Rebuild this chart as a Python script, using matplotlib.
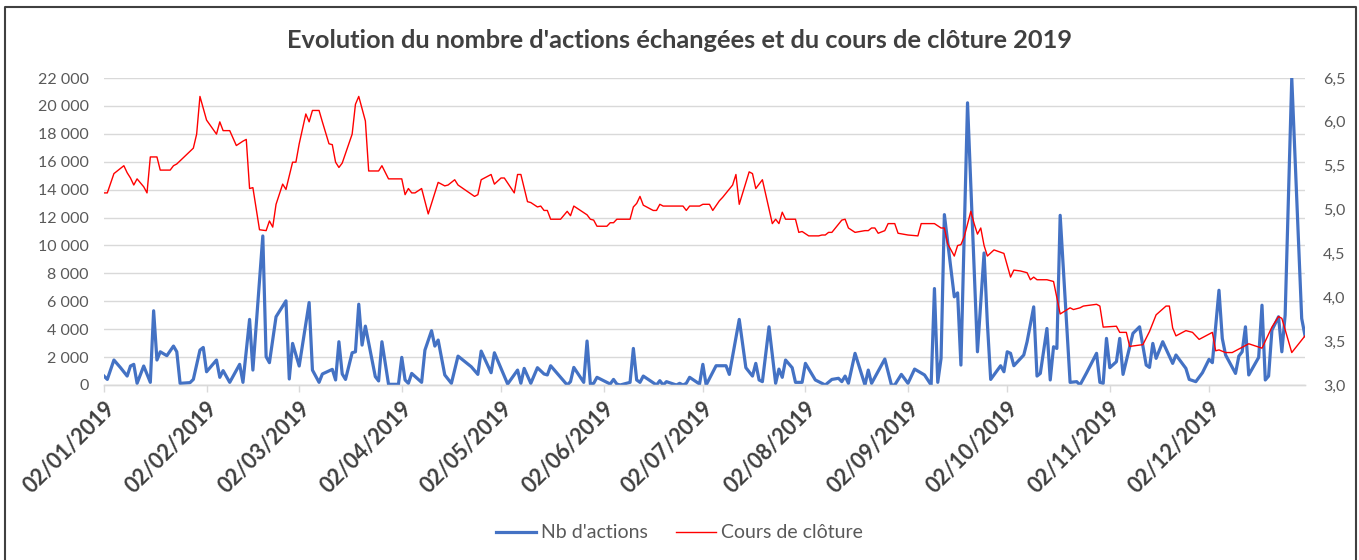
import matplotlib
matplotlib.use("Agg")
import matplotlib.pyplot as plt
import matplotlib.dates as mdates
import matplotlib.ticker as mticker
from matplotlib.lines import Line2D
import pandas as pd

# ---------------- data ----------------
# days counted from 02/01/2019
vol_days = [0, 1, 3, 5, 7, 8, 9, 10, 12, 14, 15, 16, 17, 19, 21, 22, 23, 26, 27, 29,
            30, 31, 34, 35, 36, 38, 41, 42, 44, 45, 48, 49, 50, 52, 55, 56, 57, 59, 62, 63,
            65, 66, 69, 70, 71, 72, 73, 75, 76, 77, 78, 79, 82, 83, 84, 86, 89, 90, 91, 92,
            93, 96, 97, 99, 100, 101, 103, 105, 107, 111, 113, 114, 117, 118, 122, 125, 126, 127, 129, 131,
            133, 134, 135, 140, 141, 142, 145, 146, 147, 148, 149, 153, 154, 155, 156, 159, 160, 161, 162, 163,
            167, 168, 169, 170, 173, 174, 175, 176, 177, 180, 181, 182, 185, 188, 189, 192, 194, 196, 197, 198,
            199, 201, 203, 204, 205, 206, 208, 209, 211, 212, 215, 218, 220, 222, 223, 224, 225, 227, 230, 231,
            232, 236, 238, 239, 241, 243, 245, 248, 250, 251, 252, 253, 254, 257, 258, 259, 261, 264, 266, 267,
            268, 271, 272, 273, 274, 275, 278, 279, 281, 282, 283, 285, 286, 287, 288, 289, 292, 294, 295, 297,
            300, 301, 302, 303, 304, 306, 307, 308, 311, 313, 315, 316, 317, 318, 320, 323, 324, 327, 328, 330,
            332, 334, 335, 337, 338, 339, 342, 343, 344, 345, 346, 349, 350, 351, 352, 353, 355, 356, 357, 359,
            362, 363]
nb_actions = [640, 400, 1790, 1240, 640, 1360, 1480, 120, 1360, 190, 5320, 1790, 2380, 2100, 2790, 2380, 120, 170, 400, 2500,
              2690, 950, 1790, 550, 1030, 190, 1480, 190, 4700, 1070, 10680, 2030, 1600, 4890, 6030, 430, 2980, 1360, 5910, 1070,
              190, 790, 1120, 360, 3100, 790, 400, 2310, 2380, 5790, 2860, 4220, 600, 290, 3100, 50, 50, 1980, 360, 120,
              830, 190, 2500, 3890, 2790, 3220, 720, 120, 2070, 1310, 760, 2430, 880, 2310, 70, 1070, 120, 1190, 120, 1240,
              790, 720, 1380, 0, 240, 1260, 190, 3150, 70, 120, 550, 70, 400, 70, 0, 190, 2620, 360, 190, 640,
              0, 310, 0, 240, 0, 120, 0, 120, 550, 70, 1480, 0, 1380, 1380, 760, 4700, 1240, 640, 1550, 360,
              240, 4170, 120, 1140, 550, 1790, 1240, 190, 190, 1550, 360, 0, 400, 480, 240, 640, 120, 2270, 0, 1070,
              120, 1860, 0, 0, 760, 120, 1140, 720, 0, 6910, 190, 1910, 12210, 6320, 6600, 1430, 20220, 2380, 9460, 4410,
              400, 1380, 950, 2380, 2270, 1380, 2150, 3100, 5600, 640, 830, 4050, 360, 2740, 2620, 12160, 190, 240, 0, 880,
              2270, 190, 120, 3340, 1240, 1670, 3340, 760, 3700, 4170, 1430, 1260, 2980, 1910, 3100, 1550, 2150, 1190, 400, 240,
              880, 1840, 1600, 6790, 3340, 2150, 830, 2070, 2380, 4170, 720, 1980, 5720, 360, 640, 3930, 4890, 2380, 5010, 22000,
              4770, 3530]

cours_days = [0, 1, 3, 6, 7, 8, 9, 10, 12, 13, 14, 16, 17, 20, 21, 22, 27, 28, 29, 31,
              34, 35, 36, 38, 40, 42, 43, 44, 45, 47, 49, 50, 51, 52, 54, 55, 57, 58, 59, 61,
              62, 63, 65, 66, 68, 69, 70, 71, 72, 75, 76, 77, 79, 80, 83, 84, 86, 90, 91, 92,
              93, 94, 96, 98, 101, 103, 104, 106, 107, 112, 113, 114, 117, 118, 120, 121, 124, 125, 126, 128,
              129, 131, 132, 133, 134, 135, 138, 140, 141, 142, 146, 147, 148, 149, 152, 153, 154, 155, 159, 160,
              161, 162, 163, 166, 167, 168, 169, 175, 176, 177, 180, 181, 183, 184, 186, 187, 190, 191, 192, 195,
              196, 197, 199, 202, 203, 204, 205, 206, 209, 210, 211, 213, 216, 217, 218, 219, 220, 223, 224, 225,
              227, 230, 231, 232, 233, 234, 236, 237, 239, 240, 243, 246, 247, 251, 253, 254, 255, 257, 258, 259,
              260, 262, 263, 264, 265, 266, 267, 269, 272, 274, 275, 277, 279, 280, 281, 282, 285, 287, 289, 292,
              293, 295, 296, 300, 301, 302, 306, 307, 309, 310, 314, 316, 318, 321, 322, 323, 324, 327, 329, 331,
              335, 336, 337, 339, 341, 343, 344, 346, 350, 353, 355, 356, 359, 363]
cours = [5.19, 5.19, 5.41, 5.50, 5.42, 5.36, 5.28, 5.35, 5.26, 5.19, 5.60, 5.60, 5.45, 5.45, 5.50, 5.52, 5.70, 5.86, 6.29, 6.02,
         5.86, 6.00, 5.90, 5.90, 5.73, 5.78, 5.80, 5.24, 5.25, 4.77, 4.76, 4.87, 4.80, 5.06, 5.29, 5.23, 5.54, 5.54, 5.75, 6.09,
         6.00, 6.13, 6.13, 6.00, 5.75, 5.74, 5.54, 5.48, 5.53, 5.86, 6.20, 6.29, 6.01, 5.44, 5.44, 5.50, 5.35, 5.35, 5.17, 5.24,
         5.19, 5.19, 5.24, 4.95, 5.31, 5.27, 5.28, 5.34, 5.28, 5.15, 5.17, 5.34, 5.40, 5.29, 5.36, 5.36, 5.19, 5.40, 5.40, 5.09,
         5.08, 5.03, 5.04, 4.99, 4.99, 4.89, 4.89, 4.98, 4.93, 5.04, 4.94, 4.89, 4.88, 4.81, 4.81, 4.85, 4.85, 4.89, 4.89, 5.03,
         5.07, 5.15, 5.05, 4.99, 4.99, 5.06, 5.04, 5.04, 4.99, 5.04, 5.04, 5.06, 5.06, 4.99, 5.10, 5.14, 5.28, 5.40, 5.06, 5.43,
         5.41, 5.24, 5.34, 4.84, 4.89, 4.84, 4.97, 4.89, 4.89, 4.74, 4.75, 4.70, 4.70, 4.71, 4.71, 4.74, 4.74, 4.88, 4.89, 4.79,
         4.74, 4.76, 4.76, 4.79, 4.79, 4.73, 4.76, 4.84, 4.84, 4.73, 4.71, 4.70, 4.84, 4.84, 4.79, 4.79, 4.61, 4.47, 4.59, 4.60,
         4.69, 4.98, 4.84, 4.72, 4.79, 4.59, 4.47, 4.54, 4.50, 4.23, 4.31, 4.30, 4.28, 4.20, 4.23, 4.20, 4.20, 4.18, 3.81, 3.88,
         3.86, 3.88, 3.90, 3.92, 3.90, 3.66, 3.67, 3.60, 3.60, 3.44, 3.46, 3.61, 3.80, 3.90, 3.90, 3.65, 3.56, 3.62, 3.60, 3.52,
         3.60, 3.39, 3.40, 3.37, 3.37, 3.41, 3.43, 3.47, 3.42, 3.66, 3.78, 3.76, 3.37, 3.56]

tick_dates = ["2019-01-02", "2019-02-02", "2019-03-02", "2019-04-02", "2019-05-02", "2019-06-02",
              "2019-07-02", "2019-08-02", "2019-09-02", "2019-10-02", "2019-11-02", "2019-12-02"]
title = "Evolution du nombre d'actions échangées et du cours de clôture 2019"
label_vol = "Nb d'actions"
label_cours = "Cours de clôture"

# ---------------- figure ----------------
FONT = ["Lato", "DejaVu Sans"]
plt.rcParams["font.family"] = FONT

start = pd.Timestamp("2019-01-02")
vol_x = start + pd.to_timedelta(vol_days, unit="D")
cours_x = start + pd.to_timedelta(cours_days, unit="D")

W, H = 1359, 560
fig = plt.figure(figsize=(W / 100, H / 100), dpi=100)
ax = fig.add_axes([104 / W, 1 - 385 / H, (1305 - 104) / W, (385 - 78) / H])
ax2 = ax.twinx()

ax.plot(vol_x, nb_actions, color="#4472C4", lw=2.3, solid_joinstyle="round", label=label_vol, zorder=3)
ax2.plot(cours_x, cours, color="#FF0000", lw=1.0, label=label_cours, zorder=3)

ax.set_xlim(pd.Timestamp("2019-01-02"), pd.Timestamp("2019-12-31"))
ax.set_ylim(0, 22000)
ax2.set_ylim(3.0, 6.5)
ax.yaxis.set_major_locator(mticker.MultipleLocator(2000))
ax2.yaxis.set_major_locator(mticker.MultipleLocator(0.5))
ax.yaxis.set_major_formatter(mticker.FuncFormatter(lambda v, p: f"{int(v):,}".replace(",", " ")))
ax2.yaxis.set_major_formatter(mticker.FuncFormatter(lambda v, p: f"{v:.1f}".replace(".", ",")))

ax.grid(axis="y", color="#D9D9D9", lw=1.0)
ax.set_axisbelow(True)
for a in (ax, ax2):
    for s in ("top", "left", "right"):
        a.spines[s].set_visible(False)
    a.spines["bottom"].set_color("#D9D9D9")
    a.spines["bottom"].set_linewidth(1.0)

ax.tick_params(axis="y", length=0, labelsize=11.5, labelcolor="#595959", pad=11)
ax2.tick_params(axis="y", length=0, labelsize=11.5, labelcolor="#595959", pad=13)

ticks = pd.to_datetime(tick_dates)
ax.set_xticks(ticks)
ax.set_xticklabels([t.strftime("%d/%m/%Y") for t in ticks], rotation=45, ha="right",
                   rotation_mode="anchor", fontsize=15.5, fontweight="bold", color="#404040")
ax.tick_params(axis="x", length=5, color="#D9D9D9", width=1.0, pad=4)

fig.text(0.5, 1 - 40 / H, title, ha="center", va="center", fontsize=18.3,
         fontweight="bold", color="#404040")

handles = [Line2D([], [], color="#4472C4", lw=2.3), Line2D([], [], color="#FF0000", lw=1.0)]
fig.legend(handles, [label_vol, label_cours], loc="center", bbox_to_anchor=(0.5, 1 - 533 / H),
           ncol=2, frameon=False, fontsize=14, labelcolor="#595959", handlelength=2.05,
           columnspacing=1.45, handletextpad=0.25)

# outer chart border
fig.add_artist(Line2D([5 / W, 5 / W, 1356 / W, 1356 / W], [-0.01, 1 - 7 / H, 1 - 7 / H, -0.01],
                      transform=fig.transFigure, color="#404040", lw=1.5))

fig.savefig("out.png", dpi=100)
